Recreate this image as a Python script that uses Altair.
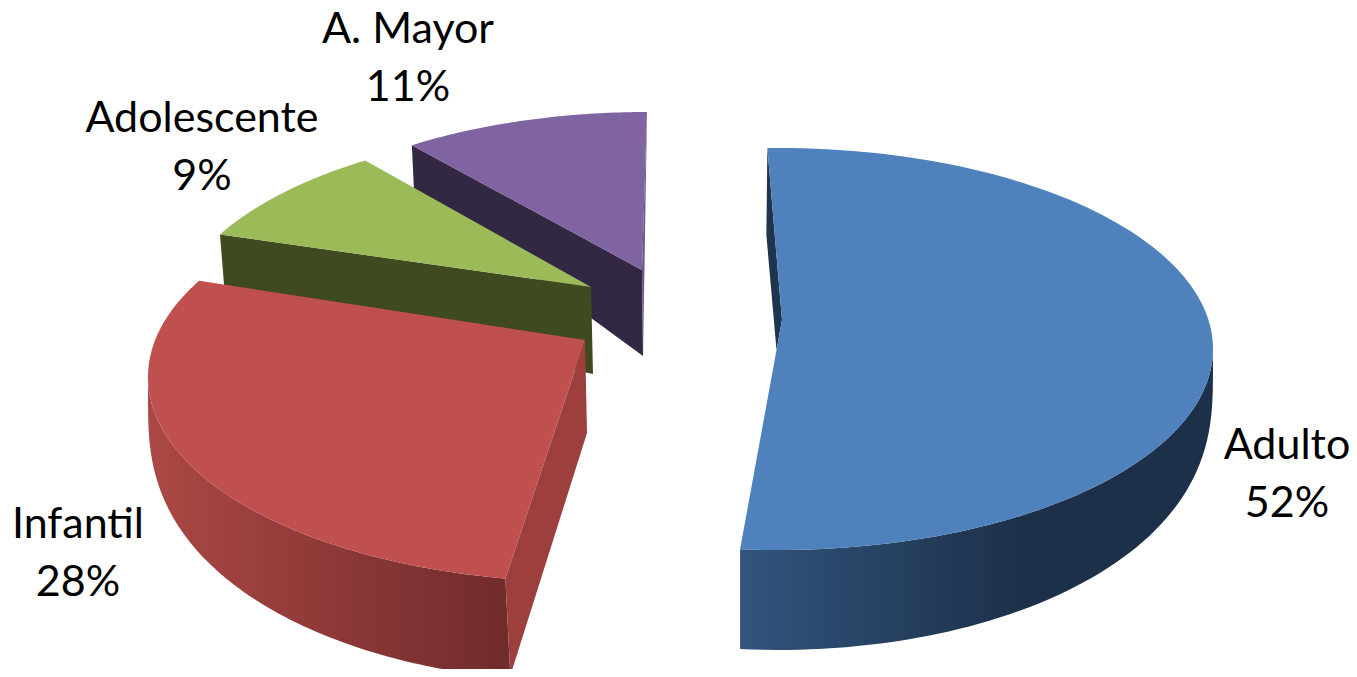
import math
import altair as alt

# ---- chart values ----
categories = ["Adulto", "Infantil", "Adolescente", "A. Mayor"]
shares = [52, 28, 9, 11]

# ---- styling and drawn layout of each exploded 3D slice ----
W, H = 1357, 677
M = 8  # page margin
face_colors = ["#4f81bd", "#c0504d", "#9bbb59", "#8064a2"]
wall_colors = ["#1f344d", "#9c3f3d", "#404a20", "#322843"]
rim_gradients = [("#32547d", "#1c3049"), ("#ab4845", "#702b2b")]
# cx, cy, rx, ry of the face ellipse; apex; first angle; stretch of share to degrees
slices = [
    dict(c=(778, 349, 435, 201), apex=(782, 320), start=-1.4, k=186.4 / 52),
    dict(c=(585, 377, 437, 205), apex=(585, 340), start=190.5, k=107.5 / 28),
    dict(c=(600, 328, 430, 200), apex=(591, 287), start=297.9, k=29.0 / 9),
    dict(c=(647, 312, 426, 200), apex=(642, 270), start=326.5, k=33.5 / 11),
]
DEPTH = 100


def rim(s, share, n=120):
    cx, cy, rx, ry = s["c"]
    sweep = share * s["k"]
    out = []
    for i in range(n + 1):
        t = math.radians(s["start"] + sweep * i / n)
        out.append((cx + rx * math.sin(t), cy - ry * math.cos(t), t))
    return out


def drop(t):
    return DEPTH * max(-math.cos(t), 0.0) ** 0.3


def feature(pts):
    ring = [[x - M, y - M] for x, y in pts]
    ring.append(ring[0])
    return {"type": "Feature", "properties": {}, "geometry": {"type": "Polygon", "coordinates": [ring]}}


def shape(pts, fill):
    data = alt.InlineData(values=[feature(pts)])
    return alt.Chart(data).mark_geoshape(fill=fill, strokeWidth=0).project(type="identity", scale=1, translate=[0, 0])


layers = []
# Painted back to front: A. Mayor, Adolescente, Infantil, Adulto
for idx in [3, 2, 1, 0]:
    s, share = slices[idx], shares[idx]
    arc = rim(s, share)
    ax, ay = s["apex"]
    a0, a1 = arc[0], arc[-1]
    wall = wall_colors[idx]
    extra = []
    if idx == 3:
        layers.append(shape([(a0[0], a0[1]), (ax, ay), (ax + 1, ay + 86), (a0[0] + 2, a0[1] + 43)], wall))
        layers.append(shape([(a1[0], a1[1]), (ax, ay), (ax + 1, ay + 86)], "#6a5387"))
    elif idx == 2:
        layers.append(shape([(a0[0], a0[1]), (ax, ay), (ax + 2, ay + 87), (a0[0] + 5, a0[1] + 62)], wall))
    elif idx == 1:
        top = [(x, y) for x, y, t in arc if math.degrees(t) <= 270]
        low = [(x, y + drop(t)) for x, y, t in arc if math.degrees(t) <= 270]
        g = alt.Gradient(gradient="linear", x1=1, x2=0, y1=0, y2=0,
                         stops=[alt.GradientStop(color=rim_gradients[1][1], offset=0),
                                alt.GradientStop(color=rim_gradients[1][0], offset=1)])
        layers.append(shape(top + low[::-1] + [(a0[0] + 5, a0[1] + 97)], g))
        layers.append(shape([(ax, ay), (ax + 2, ay + 93), (a0[0] + 5, a0[1] + 97), (a0[0], a0[1])], wall))
    else:
        top = [(x, y) for x, y, t in arc if math.degrees(t) >= 90]
        low = [(x, y + drop(t)) for x, y, t in arc if math.degrees(t) >= 90]
        g = alt.Gradient(gradient="linear", x1=0, x2=1, y1=0, y2=0,
                         stops=[alt.GradientStop(color=rim_gradients[0][0], offset=0),
                                alt.GradientStop(color=rim_gradients[0][1], offset=0.6),
                                alt.GradientStop(color=rim_gradients[0][1], offset=1)])
        layers.append(shape(top + low[::-1], g))
        layers.append(shape([(a0[0], a0[1]), (a0[0] - 1, a0[1] + 87), (776.5, 350), (ax, ay)], wall))
        extra = [(776.5, 350)]
    layers.append(shape([(ax, ay)] + [(x, y) for x, y, _ in arc] + extra, face_colors[idx]))

# ---- labels ----
label_pos = {"Adulto": (1287, 446), "Infantil": (78, 525), "Adolescente": (202, 119), "A. Mayor": (408, 30)}
label_rows = []
for c, v in zip(categories, shares):
    x, y = label_pos[c]
    label_rows.append({"x": x - M, "y": y - M, "t": c})
    label_rows.append({"x": x - M, "y": y - M + 58, "t": f"{v}%"})

x_scale = alt.Scale(domain=[0, W - 2 * M], range=[0, W - 2 * M])
y_scale = alt.Scale(domain=[0, H - 2 * M], range=[0, H - 2 * M])
labels = alt.Chart(alt.Data(values=label_rows)).mark_text(
    font="Lato", fontSize=43, color="#000000", align="center", baseline="middle"
).encode(
    x=alt.X("x:Q", scale=x_scale, axis=None),
    y=alt.Y("y:Q", scale=y_scale, axis=None),
    text="t:N",
)

chart = alt.layer(*layers, labels).properties(
    width=W - 2 * M, height=H - 2 * M, padding=0,
    autosize=alt.AutoSizeParams(type="none"),
).configure_view(stroke=None)

chart.save("out.html", embed_options={"renderer": "svg", "actions": False})
